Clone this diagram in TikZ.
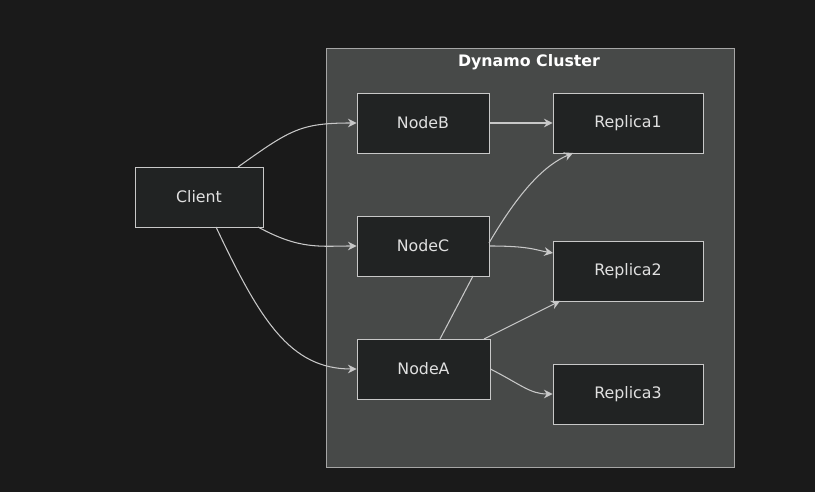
\documentclass[tikz,border=0pt]{standalone}
\usepackage{fontspec}
\setmainfont{DejaVu Sans}
\usetikzlibrary{arrows.meta}
\definecolor{bgcol}{HTML}{1A1A1A}
\definecolor{clustercol}{HTML}{474948}
\definecolor{boxcol}{HTML}{212323}
\definecolor{linecol}{HTML}{C8C8C8}
\tikzset{
  box/.style={draw=linecol,fill=boxcol,text=white!88!black,minimum height=1.2cm,inner sep=0pt,font=\fontsize{9}{11}\selectfont},
  link/.style={draw=linecol,line width=0.6pt,-{Stealth[length=5pt,width=5pt]}},
}
\begin{document}
\begin{tikzpicture}[x=0.02cm,y=-0.02cm]
\fill[bgcol] (0,0) rectangle (815,492);
\useasboundingbox (0,0) rectangle (815,492);
% cluster
\draw[draw=gray!70,fill=clustercol] (326,48) rectangle (734,467);
\node[text=white,font=\bfseries\fontsize{9}{11}\selectfont] (title) at (529,62) {Dynamo Cluster};
% nodes
\node[box,minimum width=2.56cm] (client) at (199,197) {Client};
\node[box,minimum width=2.64cm] (nodeb) at (423,123) {NodeB};
\node[box,minimum width=2.64cm] (nodec) at (423,246) {NodeC};
\node[box,minimum width=2.66cm] (nodea) at (423.5,369) {NodeA};
\node[box,minimum width=3cm] (rep1) at (628,123) {Replica1};
\node[box,minimum width=3cm] (rep2) at (628,271) {Replica2};
\node[box,minimum width=3cm] (rep3) at (628,394) {Replica3};
% edges
\begin{scope}[on background layer/.style={}]
\end{scope}
\draw[link] (238,167) .. controls (290,130) and (300,123) .. (nodeb.west);
\draw[link] (258,227) .. controls (300,250) and (320,246) .. (nodec.west);
\draw[link] (216,227) .. controls (260,320) and (290,369) .. (nodea.west);
\draw[link] (nodeb.east) -- (rep1.west);
\draw[link] (489,243) .. controls (520,190) and (545,165) .. (573,153);
\draw[link] (489,246) .. controls (530,246) and (535,250) .. (553,253);
\draw[draw=linecol,line width=0.6pt] (440,339) -- (473,276);
\draw[link] (484,339) -- (560,301);
\draw[link] (nodea.east) .. controls (520,384) and (530,394) .. (rep3.west);
\end{tikzpicture}
\end{document}
